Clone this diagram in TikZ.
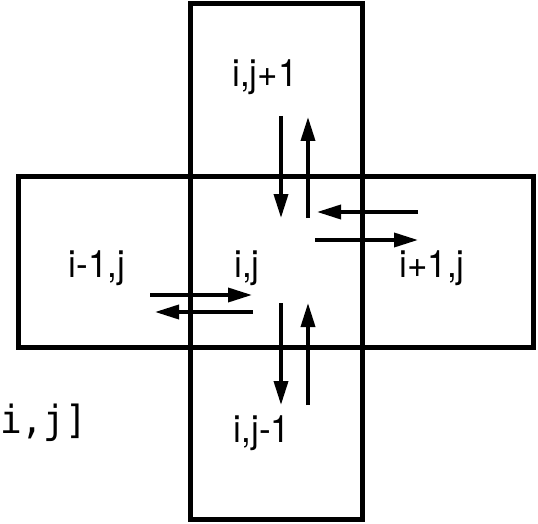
\documentclass[tikz,border=0pt]{standalone}
\usepackage{fontspec}
\setmainfont{TeX Gyre Heros}
\setmonofont{DejaVu Sans Mono}
\usetikzlibrary{arrows.meta}
\newcommand{\tall}[1]{\scalebox{1}[1.08]{#1}}
\tikzset{
  cell/.style={draw=black, line width=5pt, rectangle, inner sep=0pt, outer sep=0pt},
  flow/.style={line width=3.6pt, -{Triangle[length=24pt,width=14pt]}},
  lab/.style={anchor=base, inner sep=0pt, font=\fontsize{35}{40}\selectfont},
}
\begin{document}
\begin{tikzpicture}[x=1pt,y=-1pt]
\useasboundingbox (0,0) rectangle (538,524);
\node[cell, minimum width=172pt, minimum height=515pt] (vbox) at (276,261.5) {};
\node[cell, minimum width=515pt, minimum height=171pt] (hbox) at (275.5,261.5) {};
% labels
\node[lab] (top) at (265,87) {\tall{i,j+1}};
\node[lab] (left) at (97,277) {\tall{i-1,j}};
\node[lab] (mid) at (247,277) {\tall{i,j}};
\node[lab] (right) at (432,277) {\tall{i+1,j}};
\node[lab] (bot) at (262,442) {\tall{i,j-1}};
\node[anchor=base west, inner sep=0pt, font=\ttfamily\fontsize{36}{40}\selectfont] (code) at (0,433) {\tall{i,j]}};
% arrow endpoints
\coordinate (a1s) at (281,116); \coordinate (a1e) at (281,218);
\coordinate (a2s) at (308,218); \coordinate (a2e) at (308,117);
\coordinate (a3s) at (418,212); \coordinate (a3e) at (317,212);
\coordinate (a4s) at (315,240); \coordinate (a4e) at (418,240);
\coordinate (a5s) at (150,295); \coordinate (a5e) at (252,295);
\coordinate (a6s) at (253,312); \coordinate (a6e) at (155,312);
\coordinate (a7s) at (281,303); \coordinate (a7e) at (281,405);
\coordinate (a8s) at (308,405); \coordinate (a8e) at (308,303);
\foreach \i in {1,...,8} { \draw[flow] (a\i s) -- (a\i e); }
\end{tikzpicture}
\end{document}
